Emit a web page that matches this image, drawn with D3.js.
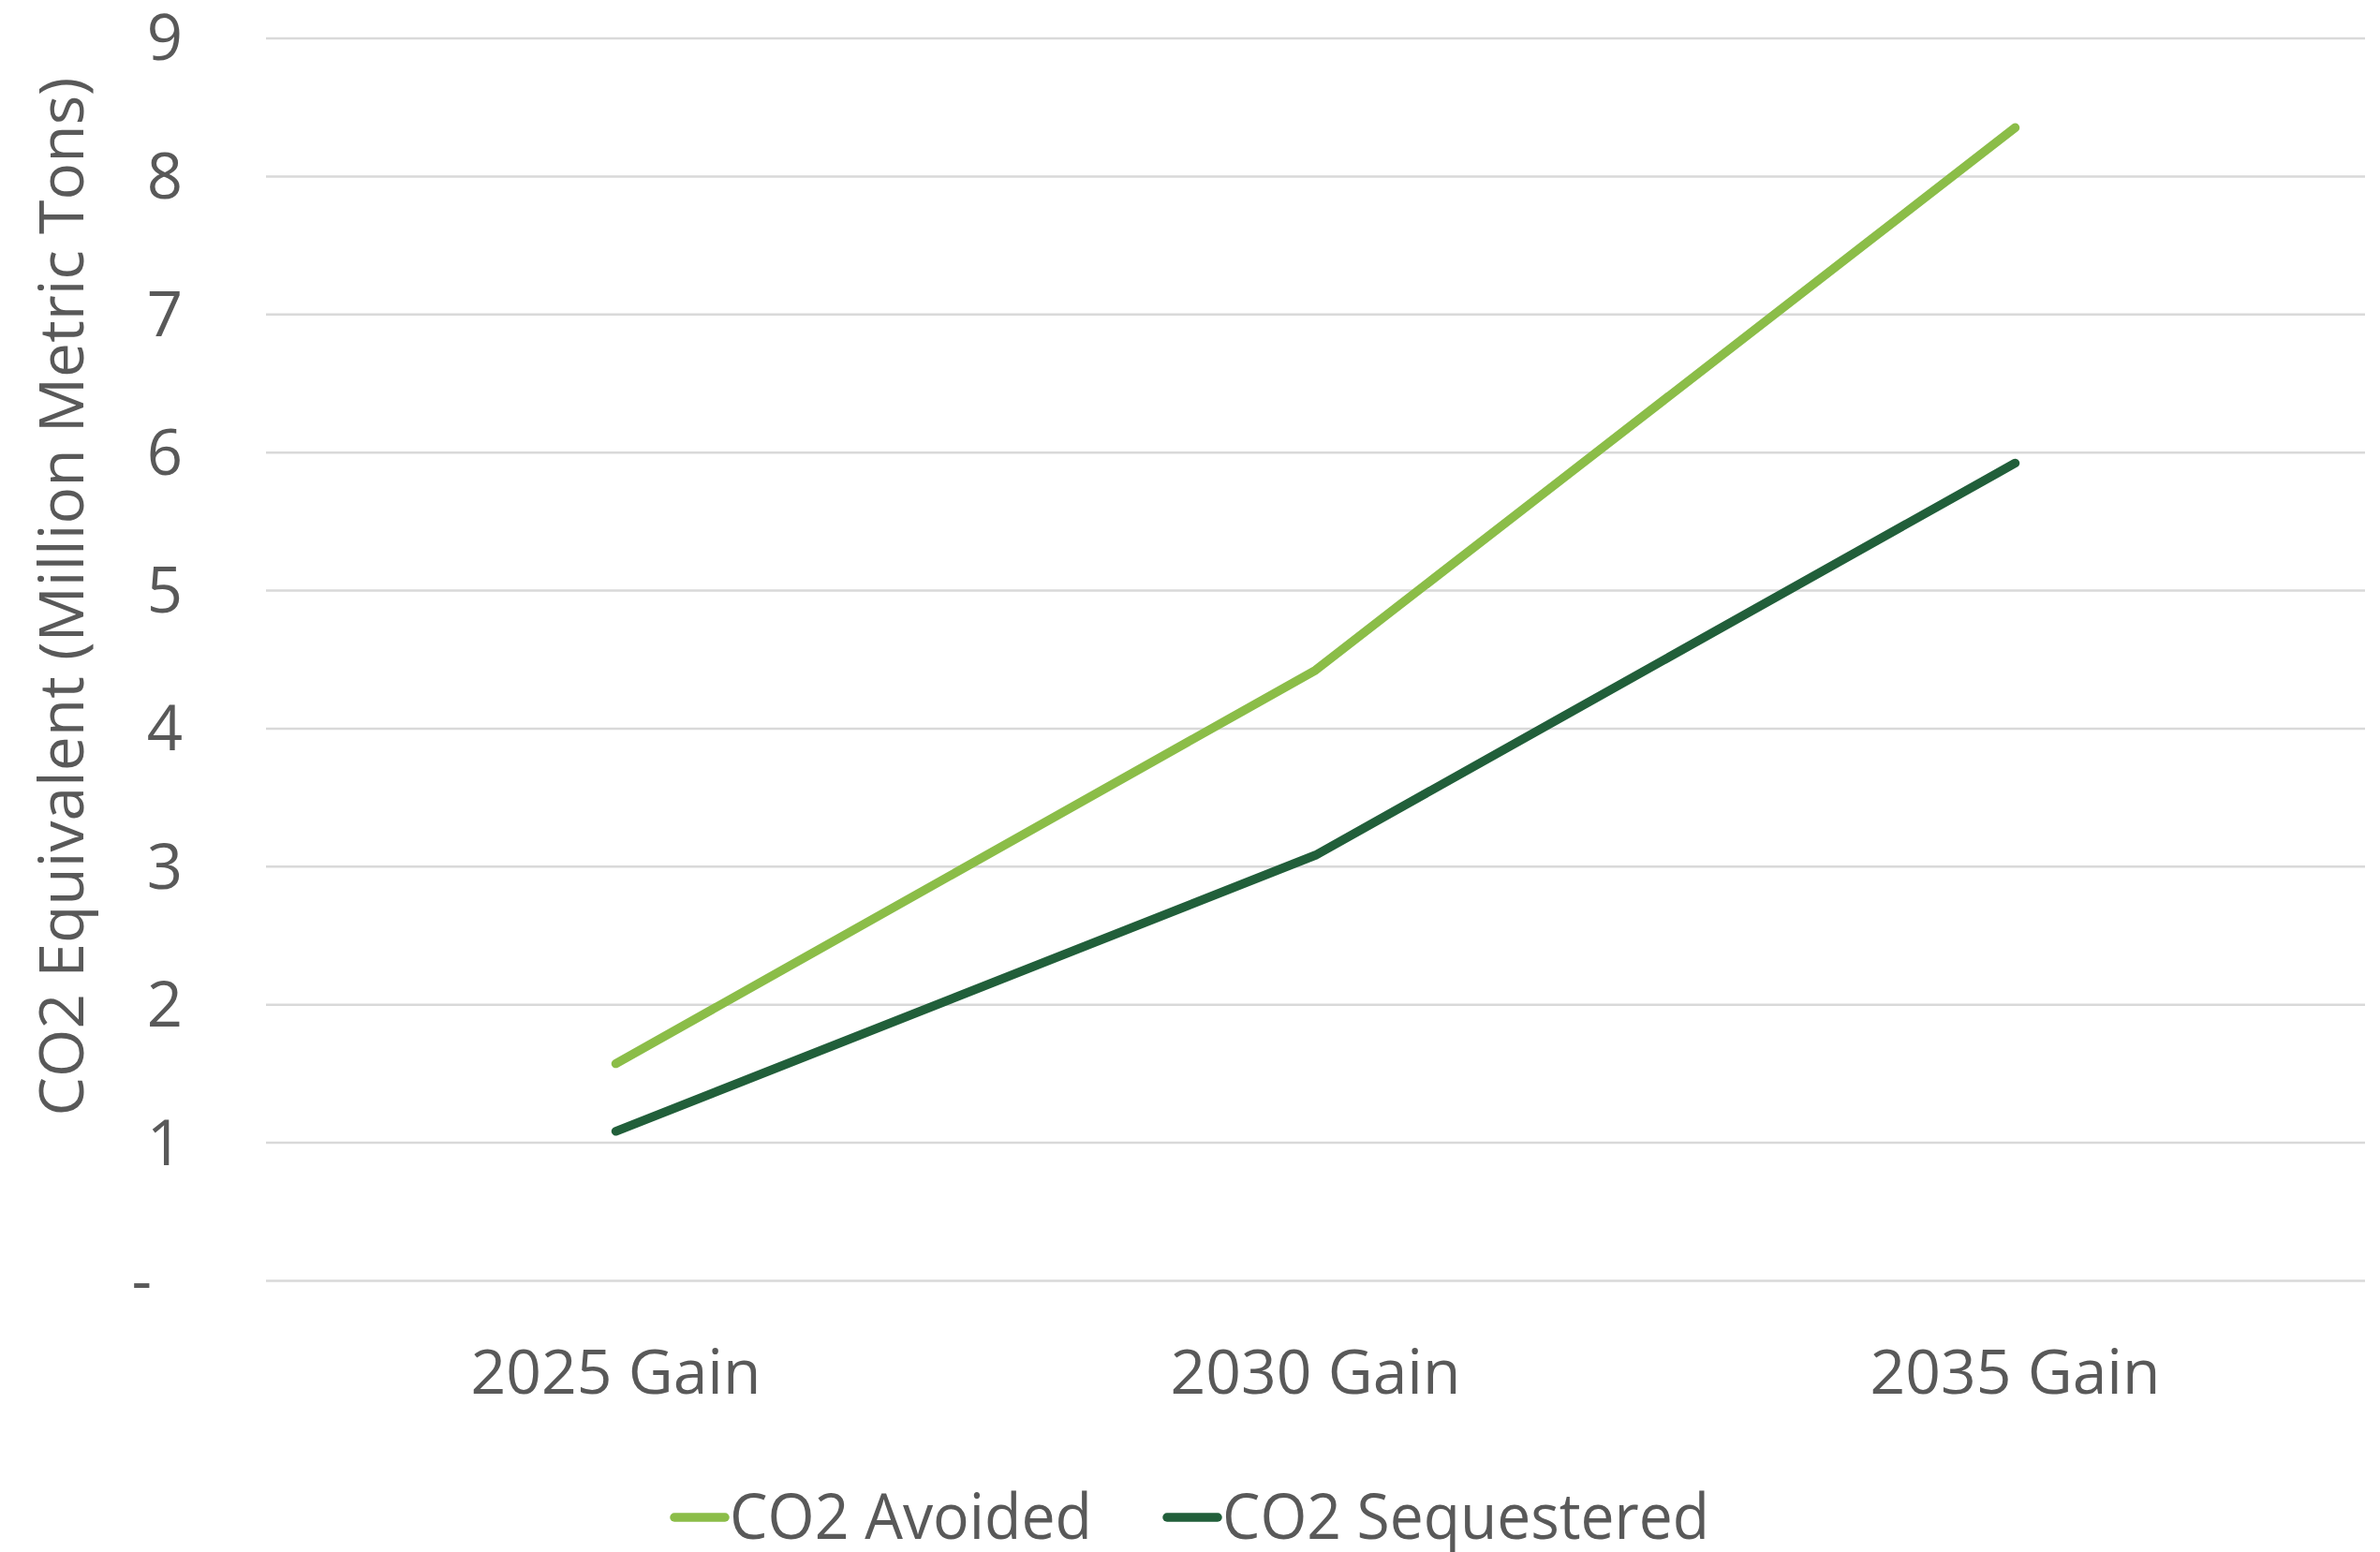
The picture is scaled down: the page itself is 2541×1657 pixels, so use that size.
<!DOCTYPE html>
<html>
<head>
<meta charset="utf-8">
<script src="https://cdn.jsdelivr.net/npm/d3@7"></script>
<style>
  html, body { margin: 0; padding: 0; background: #ffffff; }
  svg { display: block; }
  text { font-family: "Open Sans", "Noto Sans", sans-serif; fill: #595959; }
</style>
</head>
<body>
<svg id="chart" width="2541" height="1657"></svg>
<script>
// Categories and series (million metric tons CO2 equivalent)
const categories = ["2025 Gain", "2030 Gain", "2035 Gain"];
const co2Avoided = [1.57, 4.42, 8.35];
const co2Sequestered = [1.08, 3.08, 5.92];
const yTicks = [0, 1, 2, 3, 4, 5, 6, 7, 8, 9];
const seriesNames = ["CO2 Avoided", "CO2 Sequestered"];
const seriesColors = ["#8BBD48", "#215F3A"];

const svg = d3.select("#chart");
const plot = { left: 284, right: 2525, top: 40.5, bottom: 1367 };

const x = d3.scaleBand().domain(categories).range([plot.left, plot.right]);
const y = d3.scaleLinear().domain([0, 9]).range([plot.bottom, plot.top]);

// Horizontal gridlines with value labels
const yAxis = d3.axisLeft(y)
  .tickValues(yTicks)
  .tickSize(-(plot.right - plot.left))
  .tickPadding(0)
  .tickFormat(d => d === 0 ? "-" : d3.format("d")(d));

const gy = svg.append("g")
  .attr("transform", `translate(${plot.left},0)`)
  .call(yAxis);
gy.select(".domain").remove();
gy.selectAll(".tick line").attr("stroke", "#D9D9D9").attr("stroke-width", 2.5);
gy.selectAll(".tick text")
  .attr("x", d => d === 0 ? -122 : -89)
  .attr("dy", "0.35em")
  .attr("text-anchor", "end")
  .style("font-size", "67px")
  .style("fill", "#595959");

// Category labels
const gx = svg.append("g")
  .attr("transform", `translate(0,${plot.bottom})`)
  .call(d3.axisBottom(x).tickSize(0).tickPadding(0));
gx.select(".domain").remove();
gx.selectAll(".tick text")
  .attr("y", 121)
  .attr("dy", 0)
  .style("font-size", "66px")
  .style("fill", "#595959");

// Axis title
svg.append("text")
  .attr("transform", `translate(89,637) rotate(-90)`)
  .attr("text-anchor", "middle")
  .style("font-size", "66px")
  .text("CO2 Equivalent (Million Metric Tons)");

// Series lines
const line = d3.line()
  .x((d, i) => x(categories[i]) + x.bandwidth() / 2)
  .y(d => y(d));

[co2Avoided, co2Sequestered].forEach((vals, k) => {
  svg.append("path")
    .datum(vals)
    .attr("d", line)
    .attr("fill", "none")
    .attr("stroke", seriesColors[k])
    .attr("stroke-width", 9.5)
    .attr("stroke-linecap", "round")
    .attr("stroke-linejoin", "round");
});

// Legend
const legendItems = [
  { name: seriesNames[0], color: seriesColors[0], x: 720, w: 387 },
  { name: seriesNames[1], color: seriesColors[1], x: 1246, w: 520 }
];
const lg = svg.append("g");
legendItems.forEach(it => {
  lg.append("line")
    .attr("x1", it.x).attr("x2", it.x + 54)
    .attr("y1", 1620).attr("y2", 1620)
    .attr("stroke", it.color)
    .attr("stroke-width", 9.5)
    .attr("stroke-linecap", "round");
  lg.append("text")
    .attr("x", it.x + 59)
    .attr("y", 1643)
    .attr("textLength", it.w)
    .attr("lengthAdjust", "spacingAndGlyphs")
    .style("font-size", "67px")
    .text(it.name);
});
</script>
</body>
</html>
